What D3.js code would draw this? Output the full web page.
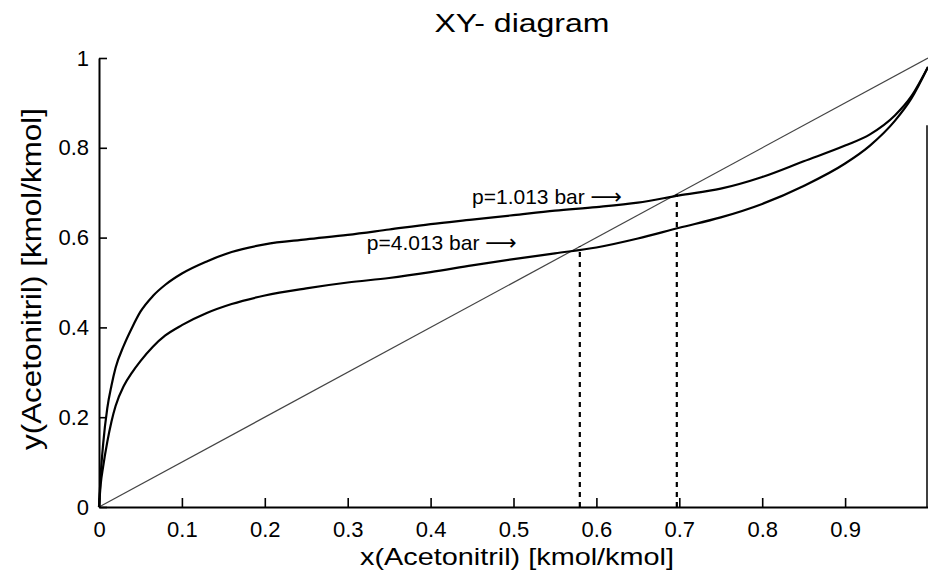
<!DOCTYPE html>
<html>
<head>
<meta charset="utf-8">
<script src="https://cdn.jsdelivr.net/npm/d3@7"></script>
<style>
  body { margin: 0; background: #fff; }
  svg { display: block; }
  text { font-family: 'Liberation Sans', Arial, sans-serif; fill: #000; }
</style>
</head>
<body>
<svg width="928" height="586"></svg>
<script>
// liquid mole fraction x (Acetonitril)
const xValues = [0, 0.002, 0.005, 0.01, 0.015, 0.02, 0.03, 0.04, 0.05, 0.065, 0.08, 0.1, 0.13, 0.16, 0.2,
  0.25, 0.3, 0.35, 0.4, 0.45, 0.5, 0.55, 0.6, 0.65, 0.7, 0.75, 0.8, 0.85, 0.9, 0.93, 0.96, 0.98, 1.0];
// vapour mole fraction y at p = 1.013 bar
const yLow = [0, 0.07, 0.14, 0.22, 0.27, 0.31, 0.36, 0.40, 0.435, 0.47, 0.495, 0.52, 0.547, 0.568, 0.585,
  0.596, 0.606, 0.618, 0.63, 0.64, 0.65, 0.66, 0.668, 0.678, 0.694, 0.709, 0.735, 0.77, 0.805, 0.83, 0.872, 0.915, 0.98];
// vapour mole fraction y at p = 4.013 bar
const yHigh = [0, 0.05, 0.09, 0.145, 0.19, 0.225, 0.27, 0.30, 0.325, 0.357, 0.382, 0.405, 0.432, 0.452, 0.471,
  0.487, 0.50, 0.51, 0.523, 0.538, 0.552, 0.565, 0.578, 0.598, 0.622, 0.645, 0.675, 0.715, 0.765, 0.805, 0.86, 0.91, 0.98];
// azeotropic points
const azeoX = [0.58, 0.697];
const labels = ['p=4.013 bar', 'p=1.013 bar'];
const labelX = [0.323, 0.45];
const labelY = [0.573, 0.675];
const xTicks = [0, 0.1, 0.2, 0.3, 0.4, 0.5, 0.6, 0.7, 0.8, 0.9];
const yTicks = [0, 0.2, 0.4, 0.6, 0.8, 1];

const SVG = d3.select('svg');
const LEFT = 99, RIGHT = 928, TOP = 58, BOTTOM = 507;

const X_SCALE = d3.scaleLinear().domain([0, 1]).range([LEFT, RIGHT]);
const Y_SCALE = d3.scaleLinear().domain([0, 1]).range([BOTTOM, TOP]);

// diagonal y = x
SVG.append('line')
  .attr('x1', X_SCALE(0)).attr('y1', Y_SCALE(0))
  .attr('x2', X_SCALE(1)).attr('y2', Y_SCALE(1))
  .style('stroke', '#444')
  .style('stroke-width', 1.2);

// dashed verticals at azeotropes
SVG.selectAll('.azeo')
  .data(azeoX)
  .join('line')
  .attr('class', 'azeo')
  .attr('x1', d => X_SCALE(d)).attr('x2', d => X_SCALE(d))
  .attr('y1', Y_SCALE(0)).attr('y2', d => Y_SCALE(d))
  .style('stroke', '#000')
  .style('stroke-width', 2.2)
  .style('stroke-dasharray', '5,5');

// equilibrium curves
const LINE = d3.line()
  .x(d => X_SCALE(d[0]))
  .y(d => Y_SCALE(d[1]))
  .curve(d3.curveMonotoneX);

[yLow, yHigh].forEach(ys => {
  SVG.append('path')
    .attr('d', LINE(xValues.map((x, i) => [x, ys[i]])))
    .style('fill', 'none')
    .style('stroke', '#000')
    .style('stroke-width', 2.2);
});

// axes
const X_AXIS = d3.axisBottom(X_SCALE)
  .tickValues(xTicks)
  .tickFormat(d => d === 0 ? '0' : d3.format('.1f')(d))
  .tickSizeInner(-9).tickSizeOuter(0).tickPadding(14);
const X_AXIS_G = SVG.append('g')
  .attr('transform', `translate(0,${BOTTOM})`)
  .call(X_AXIS);

const Y_AXIS = d3.axisLeft(Y_SCALE)
  .tickValues(yTicks)
  .tickFormat(d => (d === 0 || d === 1) ? String(d) : d3.format('.1f')(d))
  .tickSizeInner(-8).tickSizeOuter(0).tickPadding(10);
const Y_AXIS_G = SVG.append('g')
  .attr('transform', `translate(${LEFT},0)`)
  .call(Y_AXIS);

[X_AXIS_G, Y_AXIS_G].forEach(g => {
  g.select('.domain').style('stroke', '#000').style('stroke-width', 2);
  g.selectAll('.tick line').style('stroke', '#000').style('stroke-width', 1.6);
  g.selectAll('.tick text')
    .style('font-family', "'Liberation Sans', Arial, sans-serif")
    .style('font-size', '22px')
    .style('fill', '#000');
});

// right border
SVG.append('line')
  .attr('x1', RIGHT - 1).attr('x2', RIGHT - 1)
  .attr('y1', Y_SCALE(0)).attr('y2', Y_SCALE(0.85))
  .style('stroke', '#000')
  .style('stroke-width', 1.5);

// pressure labels with arrows
const PL = SVG.selectAll('.plabel')
  .data(labels)
  .join('text')
  .attr('class', 'plabel')
  .attr('x', (d, i) => X_SCALE(labelX[i]))
  .attr('y', (d, i) => Y_SCALE(labelY[i]))
  .style('font-size', '21px');
PL.append('tspan').text(d => d + ' ');
PL.append('tspan')
  .style('font-family', "'DejaVu Sans', sans-serif")
  .style('font-size', '22px')
  .text('\u27F6');

// title and axis labels
SVG.append('text')
  .attr('x', 522).attr('y', 32)
  .attr('text-anchor', 'middle')
  .attr('textLength', 175)
  .attr('lengthAdjust', 'spacingAndGlyphs')
  .style('font-size', '25px')
  .text('XY- diagram');

SVG.append('text')
  .attr('x', 517).attr('y', 565)
  .attr('text-anchor', 'middle')
  .attr('textLength', 314)
  .attr('lengthAdjust', 'spacingAndGlyphs')
  .style('font-size', '24px')
  .text('x(Acetonitril) [kmol/kmol]');

SVG.append('text')
  .attr('transform', 'translate(41,279) rotate(-90)')
  .attr('text-anchor', 'middle')
  .attr('textLength', 342)
  .attr('lengthAdjust', 'spacingAndGlyphs')
  .style('font-size', '27px')
  .text('y(Acetonitril) [kmol/kmol]');
</script>
</body>
</html>
